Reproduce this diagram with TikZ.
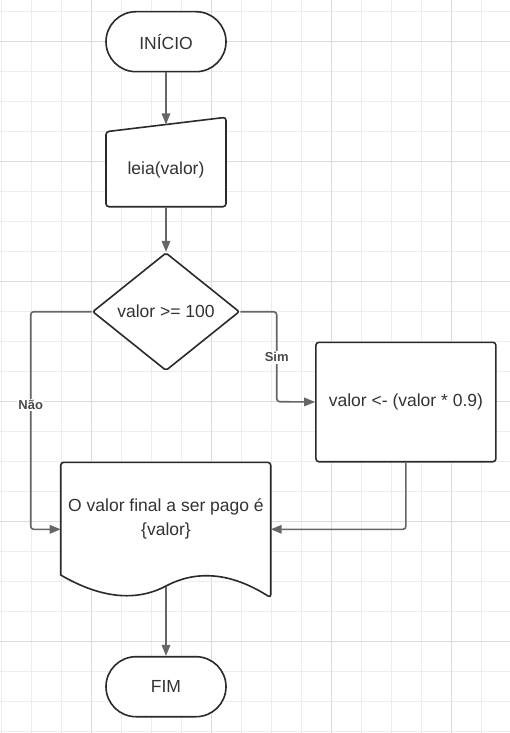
\documentclass[tikz,border=0pt]{standalone}
\usepackage{fontspec}
\setmainfont{Liberation Sans}
\usetikzlibrary{shapes.geometric,arrows.meta}
\definecolor{txt}{HTML}{333333}
\definecolor{shp}{HTML}{2A2A2A}
\definecolor{con}{HTML}{666666}
\definecolor{gminor}{HTML}{EDEDED}
\definecolor{gmajor}{HTML}{DCDCDC}
\begin{document}
\begin{tikzpicture}[x=1pt,y=-1pt,
  base/.style={draw=shp,line width=1.6pt,fill=white,text=txt,font=\fontsize{17.5}{24}\selectfont,align=center},
  term/.style={base,rectangle,rounded corners=30pt,minimum width=120pt,minimum height=60pt},
  proc/.style={base,rectangle,rounded corners=3pt,minimum width=180pt,minimum height=119.4pt},
  dec/.style={base,diamond,aspect=1.25,inner sep=0pt,minimum width=147pt,minimum height=118pt,rounded corners=2pt},
  shapeline/.style={draw=shp,line width=1.6pt,fill=white,rounded corners=3pt},
  lbl/.style={text=txt,font=\fontsize{17.5}{24}\selectfont,align=center,inner sep=0pt},
  conn/.style={draw=con,line width=1.6pt,rounded corners=3pt,-{Triangle[length=11pt,width=8.5pt]}},
  edgelbl/.style={fill=white,text=con!75!black,font=\fontsize{13}{14}\selectfont\bfseries,inner sep=1.5pt}
]
\fill[white] (0,0) rectangle (510,733);
\useasboundingbox (0,0) rectangle (510,733);
% grid
\foreach \i in {0,...,16} {\draw[gminor,line width=0.8pt] (1.7+30*\i,0) -- (1.7+30*\i,733);}
\foreach \i in {0,...,24} {\draw[gminor,line width=0.8pt] (0,11.7+30*\i) -- (510,11.7+30*\i);}
\foreach \i in {0,...,3} {\draw[gmajor,line width=0.8pt] (91.7+120*\i,0) -- (91.7+120*\i,733);}
\foreach \i in {0,...,5} {\draw[gmajor,line width=0.8pt] (0,41.7+120*\i) -- (510,41.7+120*\i);}

% start
\node[term] (start) at (166,41.7) {INÍCIO};
% manual input
\path[shapeline] (106,131.7) -- (226,117.3) -- (226,206.7) -- (106,206.7) -- cycle;
\node[lbl] (read) at (166,170) {leia(valor)};
\coordinate (readtop) at (166,124.5);
\coordinate (readbot) at (166,206.7);
% decision
\node[dec] (cond) at (166,311.7) {valor >= 100};
% process
\node[proc] (calc) at (405.9,402) {valor <- (valor * 0.9)};
% document
\path[shapeline] (60.7,575) -- (60.7,462.3) -- (270.7,462.3) -- (270.7,597.7)
  [sharp corners] .. controls (235,575) and (200,568) .. (166,586)
  .. controls (132,604) and (95,595) .. (60.7,575) -- cycle;
\node[lbl] (out) at (166,518.7) {O valor final a ser pago é\\\{valor\}};
\coordinate (outleft) at (60.7,529.3);
\coordinate (outright) at (270.7,529.3);
\coordinate (outbot) at (166,587);
% end
\node[term] (end) at (166,686.7) {FIM};

% connectors
\draw[conn] (start.south) -- (readtop);
\draw[conn] (readbot) -- (cond.north);
\draw[conn] (cond.east) -| (276.7,401.7) -- (calc.west);
\draw[conn] (cond.west) -| (30.7,529.3) -- (outleft);
\draw[conn] (calc.south) |- (outright);
\draw[conn] (outbot) -- (end.north);
% labels
\node[edgelbl] (sim) at (276.7,357.3) {Sim};
\node[edgelbl] (nao) at (30.7,405) {Não};
\end{tikzpicture}
\end{document}
